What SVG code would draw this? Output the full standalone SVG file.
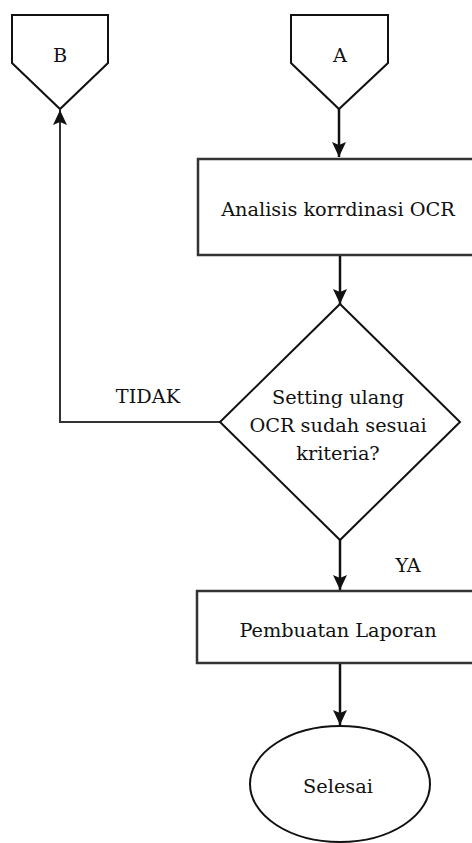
<svg xmlns="http://www.w3.org/2000/svg" width="472" height="843" viewBox="0 0 472 843">
<style>
.shape{fill:#fff;stroke:#111;stroke-width:2}
.box{fill:#fff;stroke:#333;stroke-width:2.5}
.t{font-family:"DejaVu Serif","Liberation Serif",serif;font-size:19.3px;fill:#111;text-anchor:middle}
.c{fill:none;stroke:#111;stroke-width:2.5}
.c2{fill:none;stroke:#333;stroke-width:2}
</style>
<defs>
<marker id="ah" markerUnits="userSpaceOnUse" markerWidth="16" markerHeight="18" viewBox="0 0 16 18" refX="15" refY="8" orient="auto">
<path d="M0,1 L15,8 L0,15 L3,8 Z" fill="#111"/>
</marker>
</defs>
<g id="connectors">
<line class="c" x1="339" y1="109" x2="339" y2="157" marker-end="url(#ah)"/>
<line class="c" x1="340" y1="256" x2="340" y2="304" marker-end="url(#ah)"/>
<line class="c" x1="340" y1="540" x2="340" y2="590" marker-end="url(#ah)"/>
<line class="c" x1="340" y1="663" x2="340" y2="725" marker-end="url(#ah)"/>
<polyline class="c2" points="220,422 60,422 60,110" marker-end="url(#ah)"/>
<text class="t" x="148" y="403">TIDAK</text>
<text class="t" x="408" y="572">YA</text>
</g>
<g id="nodeB">
<polygon class="shape" points="12,15 108,15 108,63 60,109 12,63"/>
<text class="t" x="60" y="62">B</text>
</g>
<g id="nodeA">
<polygon class="shape" points="291,15 388,15 388,63 339,109 291,63"/>
<text class="t" x="340" y="62">A</text>
</g>
<g id="analisis">
<rect class="box" x="198" y="159" width="300" height="96"/>
<text class="t" x="338" y="216">Analisis korrdinasi OCR</text>
</g>
<g id="decision">
<polygon class="shape" points="340,304 460,422 340,540 220,422"/>
<text class="t" x="338" y="404">Setting ulang</text>
<text class="t" x="338" y="432">OCR sudah sesuai</text>
<text class="t" x="338" y="460">kriteria?</text>
</g>
<g id="laporan">
<rect class="box" x="197" y="591" width="300" height="72"/>
<text class="t" x="338" y="637">Pembuatan Laporan</text>
</g>
<g id="selesai">
<ellipse class="shape" cx="340" cy="784" rx="90" ry="58"/>
<text class="t" x="338" y="793">Selesai</text>
</g>
</svg>
